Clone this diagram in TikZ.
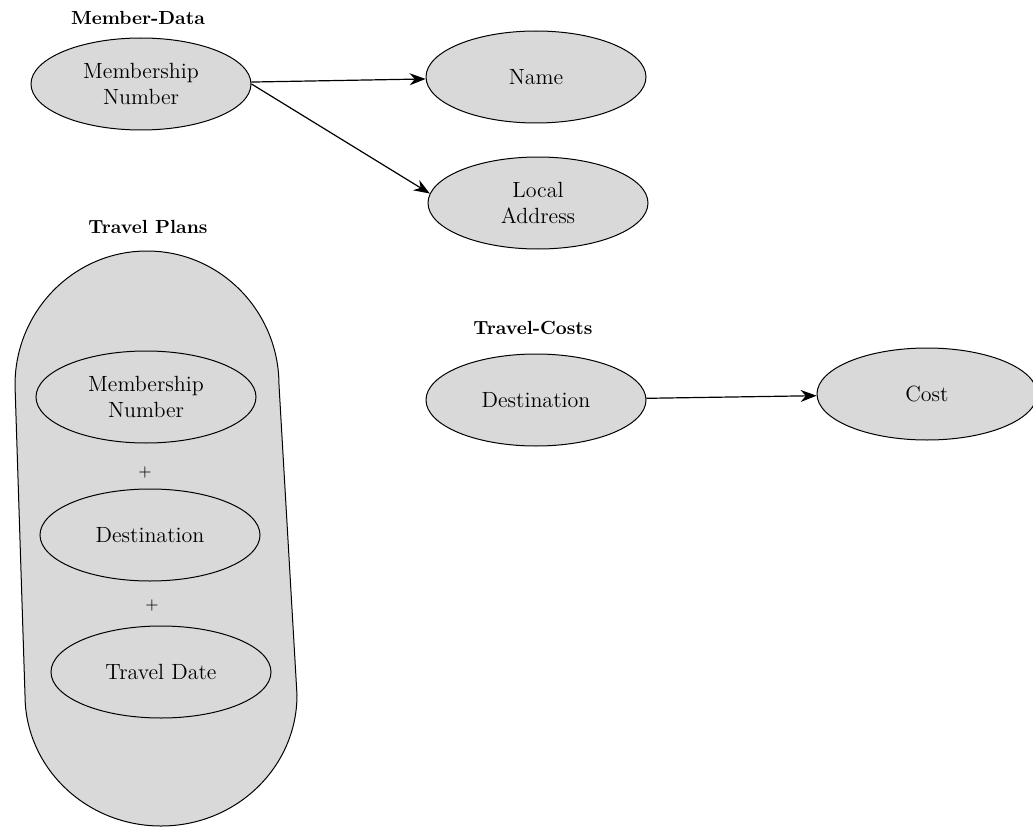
\documentclass[tikz,border=0pt]{standalone}
\usetikzlibrary{shapes.geometric,arrows.meta}
\begin{document}
\begin{tikzpicture}[x=0.5pt, y=-0.5pt,
  entity/.style={ellipse, draw, line width=0.5pt, fill=black!15,
    minimum width=110pt, minimum height=46pt, inner sep=0pt,
    align=center, font=\fontsize{11}{13}\selectfont},
  title/.style={font=\fontsize{9.5}{11}\selectfont\bfseries},
  depends/.style={-{Stealth[length=8pt,width=6pt]}, line width=0.6pt}]
  \useasboundingbox (0,0) rectangle (1033,829);
  % Member-Data
  \node[title] (mdtitle) at (138,18) {Member-Data};
  \node[entity] (mn1) at (141,84) {Membership\\Number};
  \node[entity] (name) at (536,77) {Name};
  \node[entity] (addr) at (538,203) {Local\\Address};
  \draw[depends] (mn1) -- (name);
  \draw[depends] (mn1.east) -- (addr.175);
  % Travel Plans
  \node[title] (tptitle) at (148,227) {Travel Plans};
  \filldraw[line width=0.5pt, fill=black!15] (15,385)
    arc[start angle=180, end angle=360, x radius=132, y radius=134]
    -- (297,695)
    arc[start angle=0, end angle=180, x radius=136, y radius=131] -- cycle;
  \node[entity] (mn2) at (146,397) {Membership\\Number};
  \node[font=\footnotesize] (plus1) at (145,472) {+};
  \node[entity] (dest2) at (150,535) {Destination};
  \node[font=\footnotesize] (plus2) at (152,605) {+};
  \node[entity] (tdate) at (161,672) {Travel Date};
  % Travel-Costs
  \node[title] (tctitle) at (533,328) {Travel-Costs};
  \node[entity] (dest) at (536,400) {Destination};
  \node[entity] (cost) at (927,394) {Cost};
  \draw[depends] (dest) -- (cost);
\end{tikzpicture}
\end{document}
